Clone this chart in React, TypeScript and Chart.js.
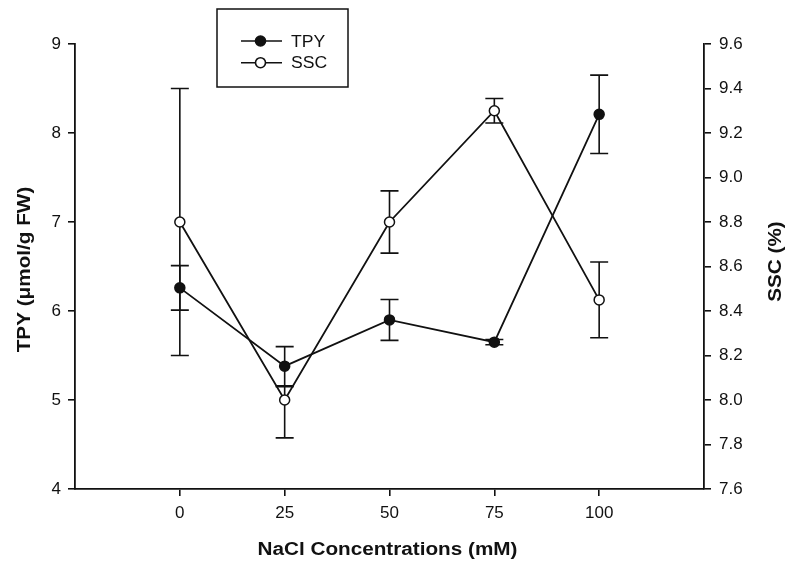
import { useEffect, useRef } from "react";
import { Chart, registerables } from "chart.js";

Chart.register(...registerables);

// NaCl concentrations (mM)
const concentrations = [0, 25, 50, 75, 100];

// TPY (µmol/g FW), mean and error
const tpyMeans = [6.26, 5.38, 5.9, 5.65, 8.21];
const tpyErrors = [0.25, 0.22, 0.23, 0.03, 0.44];

// SSC (%), mean and upper / lower error
const sscMeans = [8.8, 8.0, 8.8, 9.3, 8.45];
const sscErrorsUp = [0.6, 0.06, 0.14, 0.055, 0.17];
const sscErrorsDown = [0.6, 0.17, 0.14, 0.055, 0.17];

// Axis ticks
const xTicks = [0, 25, 50, 75, 100];
const tpyTicks = [4, 5, 6, 7, 8, 9];
const sscTicks = [7.6, 7.8, 8.0, 8.2, 8.4, 8.6, 8.8, 9.0, 9.2, 9.4, 9.6];

const INK = "#111";
const FONT = "'Liberation Sans', Arial, Helvetica, sans-serif";

const errorSets = [
  { axis: "y2", up: sscErrorsUp, down: sscErrorsDown },
  { axis: "y", up: tpyErrors, down: tpyErrors },
];

const errorBarPlugin = {
  id: "errorBars",
  beforeDatasetsDraw(chart: any) {
    const { ctx } = chart;
    const xs = chart.scales.x;
    ctx.save();
    ctx.strokeStyle = INK;
    ctx.lineWidth = 1.6;
    chart.data.datasets.forEach((ds: any, i: number) => {
      const set = errorSets[i];
      const ys = chart.scales[set.axis];
      ds.data.forEach((p: any, j: number) => {
        const px = xs.getPixelForValue(p.x);
        const top = ys.getPixelForValue(p.y + set.up[j]);
        const bot = ys.getPixelForValue(p.y - set.down[j]);
        ctx.beginPath();
        ctx.moveTo(px, top);
        ctx.lineTo(px, bot);
        ctx.moveTo(px - 9, top);
        ctx.lineTo(px + 9, top);
        ctx.moveTo(px - 9, bot);
        ctx.lineTo(px + 9, bot);
        ctx.stroke();
      });
    });
    ctx.restore();
  },
};

function drawLabel(
  ctx: CanvasRenderingContext2D,
  text: string,
  x: number,
  y: number,
  rotation: number,
  stretch: number,
  font: string
) {
  ctx.save();
  ctx.translate(x, y);
  ctx.rotate(rotation);
  ctx.scale(stretch, 1);
  ctx.font = font;
  ctx.fillStyle = INK;
  ctx.textAlign = "center";
  ctx.textBaseline = "alphabetic";
  ctx.fillText(text, 0, 0);
  ctx.restore();
}

const titlesAndLegendPlugin = {
  id: "titlesAndLegend",
  afterDraw(chart: any) {
    const ctx: CanvasRenderingContext2D = chart.ctx;
    const area = chart.chartArea;
    const midY = (area.top + area.bottom) / 2;
    const titleFont = `bold 18px ${FONT}`;

    drawLabel(ctx, "NaCl Concentrations (mM)", (area.left + area.right) / 2 - 2, 555, 0, 1.15, titleFont);
    drawLabel(ctx, "TPY (μmol/g FW)", 29.5, midY + 3, -Math.PI / 2, 1.15, titleFont);
    drawLabel(ctx, "SSC (%)", 781, midY - 5, -Math.PI / 2, 1.15, titleFont);

    // legend box
    ctx.save();
    ctx.strokeStyle = INK;
    ctx.lineWidth = 1.5;
    ctx.strokeRect(217, 9, 131, 78);
    const entries = [
      { label: "TPY", y: 41, fill: INK },
      { label: "SSC", y: 62.7, fill: "#fff" },
    ];
    entries.forEach((e) => {
      ctx.beginPath();
      ctx.moveTo(241, e.y);
      ctx.lineTo(282, e.y);
      ctx.lineWidth = 1.6;
      ctx.stroke();
      ctx.beginPath();
      ctx.arc(260.5, e.y, 5, 0, Math.PI * 2);
      ctx.fillStyle = e.fill;
      ctx.fill();
      ctx.stroke();
      ctx.save();
      ctx.translate(291, e.y + 5.7);
      ctx.scale(1.1, 1);
      ctx.font = `16px ${FONT}`;
      ctx.fillStyle = INK;
      ctx.textAlign = "left";
      ctx.textBaseline = "alphabetic";
      ctx.fillText(e.label, 0, 0);
      ctx.restore();
    });
    ctx.restore();
  },
};

export default function App() {
  const canvasRef = useRef<HTMLCanvasElement | null>(null);

  useEffect(() => {
    if (!canvasRef.current) return;
    const tickFont = { family: FONT, size: 17 };
    const axisCommon = {
      border: { display: true, color: INK, width: 1.8 },
      grid: {
        drawOnChartArea: false,
        drawTicks: true,
        tickLength: 7,
        color: INK,
        lineWidth: 1.6,
      },
    };

    const chart = new Chart(canvasRef.current, {
      type: "line",
      data: {
        datasets: [
          {
            label: "SSC",
            data: concentrations.map((c, i) => ({ x: c, y: sscMeans[i] })),
            yAxisID: "y2",
            borderColor: INK,
            borderWidth: 1.8,
            pointBackgroundColor: "#fff",
            pointBorderColor: INK,
            pointBorderWidth: 1.5,
            pointRadius: 5,
            tension: 0,
            order: 0,
          },
          {
            label: "TPY",
            data: concentrations.map((c, i) => ({ x: c, y: tpyMeans[i] })),
            yAxisID: "y",
            borderColor: INK,
            borderWidth: 1.8,
            pointBackgroundColor: INK,
            pointBorderColor: INK,
            pointBorderWidth: 1.5,
            pointRadius: 5,
            tension: 0,
            order: 1,
          },
        ],
      },
      options: {
        responsive: false,
        animation: false,
        events: [],
        layout: { padding: { top: 44, left: 0, right: 0, bottom: 0 } },
        plugins: {
          legend: { display: false },
          tooltip: { enabled: false },
        },
        scales: {
          x: {
            type: "linear",
            min: -25,
            max: 125,
            ...axisCommon,
            afterBuildTicks: (s: any) => {
              s.ticks = xTicks.map((v) => ({ value: v }));
            },
            afterFit: (s: any) => {
              s.height = 73;
            },
            ticks: {
              font: tickFont,
              color: INK,
              padding: 7,
              maxRotation: 0,
              callback: (v: any) => String(v),
            },
          },
          y: {
            type: "linear",
            position: "left",
            min: 4,
            max: 9,
            ...axisCommon,
            afterBuildTicks: (s: any) => {
              s.ticks = tpyTicks.map((v) => ({ value: v }));
            },
            afterFit: (s: any) => {
              s.width = 75;
            },
            ticks: {
              font: tickFont,
              color: INK,
              padding: 7,
              callback: (v: any) => String(v),
            },
          },
          y2: {
            type: "linear",
            position: "right",
            min: 7.6,
            max: 9.6,
            ...axisCommon,
            afterBuildTicks: (s: any) => {
              s.ticks = sscTicks.map((v) => ({ value: v }));
            },
            afterFit: (s: any) => {
              s.width = 84;
            },
            ticks: {
              font: tickFont,
              color: INK,
              padding: 8,
              callback: (v: any) => Number(v).toFixed(1),
            },
          },
        },
      } as any,
      plugins: [errorBarPlugin, titlesAndLegendPlugin],
    });

    return () => chart.destroy();
  }, []);

  return (
    <div style={{ position: "fixed", left: 0, top: 0, width: 788, height: 562, background: "#fff" }}>
      <canvas ref={canvasRef} width={788} height={562} style={{ display: "block" }} />
    </div>
  );
}
